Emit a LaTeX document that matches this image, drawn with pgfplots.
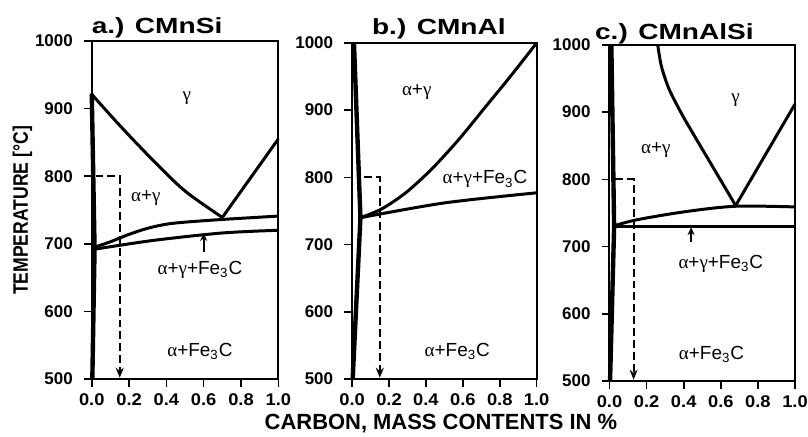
\documentclass[border=0pt]{standalone}
\usepackage{fontspec}
\setmainfont{Liberation Sans}
\newfontfamily\gr{Liberation Serif}
\newfontfamily\wide[FakeStretch=1.28]{Liberation Sans}
\newfontfamily\wtick[FakeStretch=1.08]{Liberation Sans}
\newfontfamily\narrow[FakeStretch=0.84]{Liberation Sans}
\usepackage{pgfplots}
\pgfplotsset{compat=1.18}
\usetikzlibrary{arrows.meta}

\newcommand{\al}{{\gr α}}
\newcommand{\ga}{{\gr γ}}

\tikzset{
  lbl/.style={font=\fontsize{9.5}{11}\selectfont},
  ttl/.style={font=\wide\bfseries\fontsize{11}{13}\selectfont, anchor=center},
}

\pgfplotsset{
  phase/.style={
    scale only axis, anchor=south west,
    xmin=0, xmax=1, ymin=500, ymax=1000,
    xtick={0,0.2,0.4,0.6,0.8,1}, ytick={500,600,700,800,900,1000},
    xtick pos=bottom, ytick pos=left, tick align=outside,
    major tick length=4pt,
    tick style={black, line width=0.8pt},
    axis line style={line width=1pt},
    /pgf/number format/assume math mode=true,
    ticklabel style={font=\bfseries\fontsize{8.5}{10}\selectfont},
    xticklabel style={font=\wtick\bfseries\fontsize{8.5}{10}\selectfont,
      /pgf/number format/.cd, fixed, fixed zerofill, precision=1},
    yticklabel style={xshift=-2pt, /pgf/number format/.cd, fixed, 1000 sep={}},
    clip=false,
  },
  bd/.style={black, line width=1.5pt, no markers},
  thk/.style={black, line width=2.2pt, no markers},
  dsh/.style={black, line width=1pt, no markers, dash pattern=on 4pt off 2pt,
    -{Stealth[length=5pt,width=4pt]}},
  up/.style={black, line width=0.9pt, no markers, -{Stealth[length=4pt,width=3.5pt]}},
}

\begin{document}
\begin{tikzpicture}
\path[use as bounding box] (0,0) rectangle (405pt,-219pt);

% a.) CMnSi
\begin{axis}[phase, at={(46pt,-190pt)}, width=93.5pt, height=169.5pt]
\addplot[thk] coordinates {(0.003,500) (0.015,693) (0.0,922)};
\addplot[bd, smooth] coordinates {(0,921) (0.15,875) (0.33,823) (0.5,778) (0.7,739)};
\addplot[bd] coordinates {(0.7,739) (1.0,855)};
\addplot[bd, smooth] coordinates {(0.015,695) (0.1,703) (0.2,714) (0.3,723) (0.4,729) (0.5,732) (0.7,736) (1.0,741)};
\addplot[bd, smooth] coordinates {(0.015,692) (0.33,705) (0.7,716) (1.0,720)};
\addplot[dsh] coordinates {(0.02,800) (0.15,800) (0.15,502)};
\addplot[up] coordinates {(0.6,688) (0.6,716)};
\node[ttl] at (rel axis cs:0.35,1.038) {a.) CMnSi};
\node[lbl] at (axis cs:0.51,916) {\ga};
\node[lbl] at (axis cs:0.29,768) {\al+\ga};
\node[lbl] at (axis cs:0.58,662) {\al+\ga+Fe\textsubscript{3}C};
\node[lbl] at (axis cs:0.58,541) {\al+Fe\textsubscript{3}C};
\end{axis}

% b.) CMnAl
\begin{axis}[phase, at={(176.5pt,-190pt)}, width=92.5pt, height=168.5pt]
\addplot[thk] coordinates {(0.01,1000) (0.045,740) (0.003,500)};
\addplot[bd, smooth] coordinates {(0.045,740) (0.16,753) (0.29,777) (0.43,812) (0.58,857) (0.72,904) (0.86,951) (1.0,1000)};
\addplot[bd, smooth] coordinates {(0.045,740) (0.5,762) (1.0,777)};
\addplot[dsh] coordinates {(0.065,800) (0.15,800) (0.15,502)};
\node[ttl] at (rel axis cs:0.47,1.042) {b.) CMnAl};
\node[lbl] at (axis cs:0.35,927) {\al+\ga};
\node[lbl] at (axis cs:0.72,797) {\al+\ga+Fe\textsubscript{3}C};
\node[lbl] at (axis cs:0.57,541) {\al+Fe\textsubscript{3}C};
\end{axis}

% c.) CMnAlSi
\begin{axis}[phase, at={(305.5pt,-191pt)}, width=93pt, height=168.5pt]
\addplot[thk] coordinates {(0.01,1000) (0.025,730) (0.003,500)};
\addplot[bd, smooth] coordinates {(0.26,1000) (0.28,968) (0.32,935) (0.38,902) (0.44,873) (0.56,817) (0.68,761)};
\addplot[bd] coordinates {(0.68,761) (1.0,912)};
\addplot[bd, smooth] coordinates {(0.025,731) (0.15,740) (0.41,752) (0.68,760) (1.0,759)};
\addplot[bd] coordinates {(0.025,730) (1.0,730)};
\addplot[dsh] coordinates {(0.03,800) (0.13,800) (0.13,502)};
\addplot[up] coordinates {(0.44,707) (0.44,729)};
\node[ttl] at (rel axis cs:0.35,1.032) {c.) CMnAlSi};
\node[lbl] at (axis cs:0.68,918) {\ga};
\node[lbl] at (axis cs:0.25,844) {\al+\ga};
\node[lbl] at (axis cs:0.60,674) {\al+\ga+Fe\textsubscript{3}C};
\node[lbl] at (axis cs:0.55,540) {\al+Fe\textsubscript{3}C};
\end{axis}

\node[rotate=90, font=\narrow\bfseries\fontsize{10.5}{12}\selectfont] at (11.25pt,-105.5pt) {TEMPERATURE [°C]};
\node[font=\bfseries\fontsize{11}{13}\selectfont] at (221pt,-212.5pt) {CARBON, MASS CONTENTS IN \%};
\end{tikzpicture}
\end{document}
